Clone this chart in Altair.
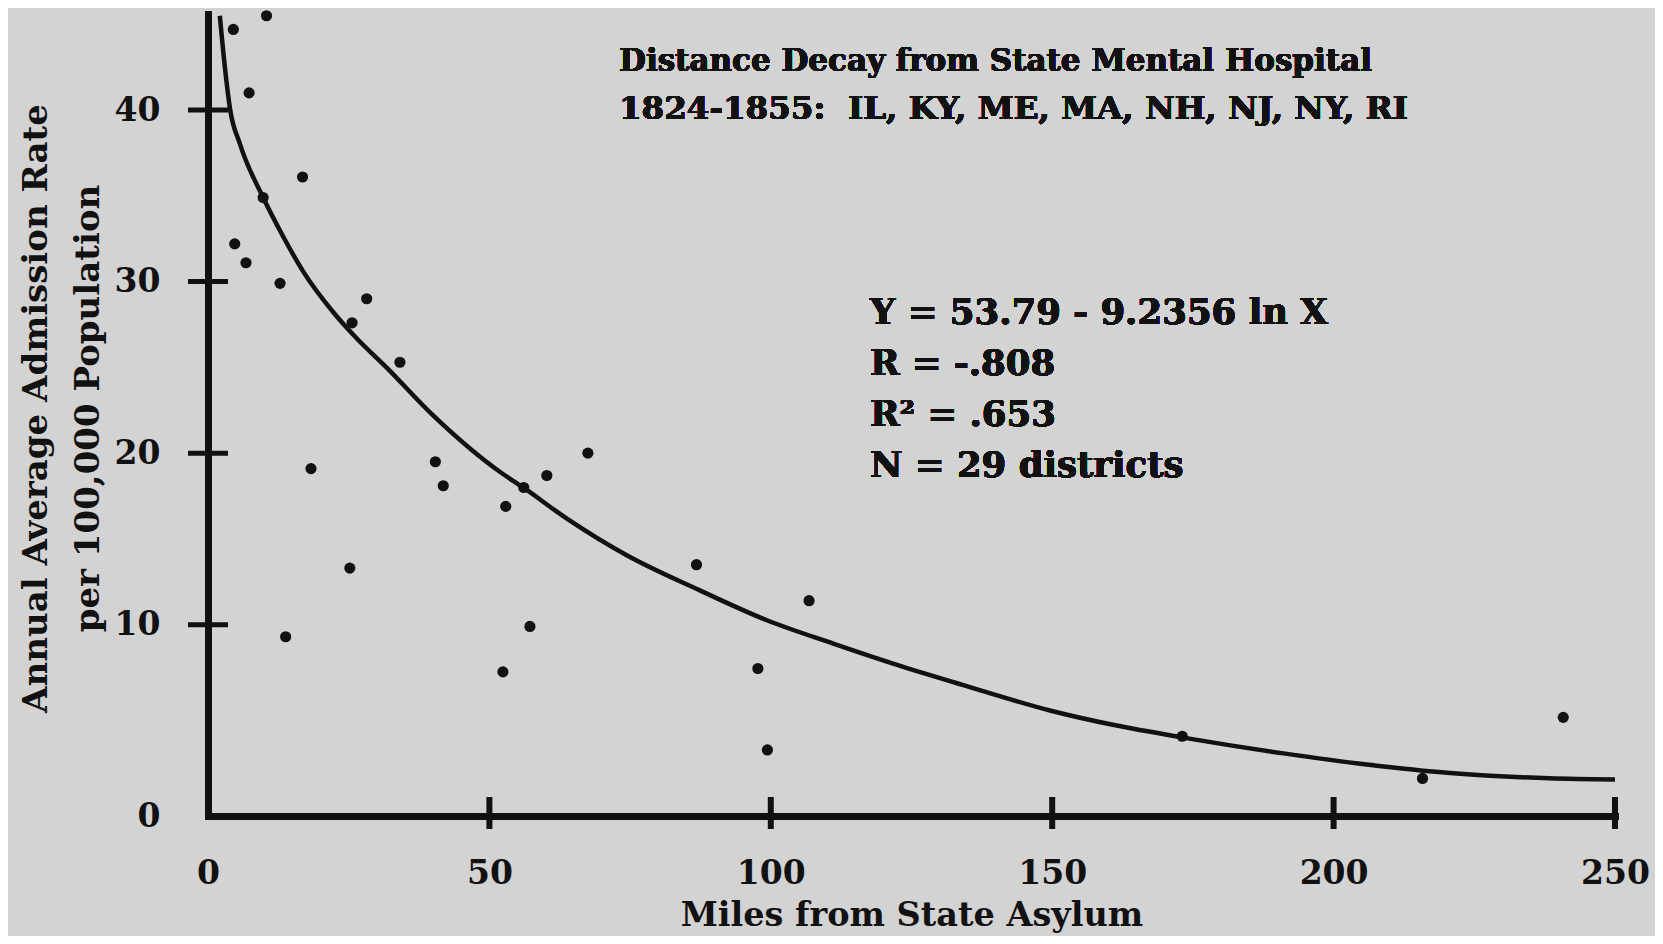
import altair as alt
import pandas as pd

# ---- data ----
miles = [4.5, 10.4, 7.3, 16.8, 9.8, 4.75, 6.75, 12.8, 28.2, 25.6, 34.1,
         18.3, 40.4, 41.8, 52.9, 56.1, 60.2, 67.5, 25.2, 13.8, 57.2, 52.4,
         86.8, 106.8, 97.7, 99.4, 173.1, 215.8, 240.8]
rate = [44.7, 45.5, 41.0, 36.1, 34.9, 32.2, 31.1, 29.9, 29.0, 27.6, 25.3,
        19.1, 19.5, 18.1, 16.9, 18.0, 18.7, 20.0, 13.3, 9.3, 9.9, 7.25,
        13.5, 11.4, 7.45, 2.7, 3.5, 1.04, 4.6]

# fitted curve as drawn in the reference
curve_miles = [2.1, 3.0, 3.9, 5.7, 9.8, 13.4, 16.9, 22.3, 26.4, 31.7, 40.0,
               51.9, 56.0, 63.7, 74.4, 87.4, 99.3, 111.1, 123.0, 134.8, 149.6,
               161.0, 173.3, 191.1, 205.9, 220.7, 238.4, 250.0]
curve_rate = [45.5, 42.5, 40.1, 38.0, 34.9, 32.6, 30.6, 28.2, 26.7, 25.0, 22.2,
              18.9, 18.0, 16.2, 14.05, 12.0, 10.26, 8.9, 7.6, 6.42, 5.0,
              4.15, 3.42, 2.5, 1.85, 1.35, 1.05, 0.98]

x_ticks = [0, 50, 100, 150, 200, 250]
y_ticks = [10, 20, 30, 40]
x_domain = [0, 250]
y_domain = [-1.15, 45.6]

title_line1 = "Distance Decay from State Mental Hospital"
title_line2 = "1824-1855:\u00a0\u00a0IL, KY, ME, MA, NH, NJ, NY, RI"
stat_lines = ["Y = 53.79 - 9.2356 ln X", "R = -.808", "R² = .653", "N = 29 districts"]

# ---- styling ----
W, H = 1407, 802
FONT = "DejaVu Serif"
INK = "#111111"
BG = "#d3d3d3"

pts = pd.DataFrame({"miles": miles, "rate": rate})
curve = pd.DataFrame({"miles": curve_miles, "rate": curve_rate})
xt = pd.DataFrame({"miles": [v for v in x_ticks if v > 0]})
yt = pd.DataFrame({"rate": y_ticks})

xscale = alt.Scale(domain=x_domain, nice=False, zero=False)
yscale = alt.Scale(domain=y_domain, nice=False, zero=False)

x_axis = alt.Axis(values=x_ticks, format="d", ticks=False, grid=False,
                  domainWidth=7, domainColor=INK, domainCap="square",
                  labelFont=FONT, labelFontSize=33, labelFontWeight="bold",
                  labelColor=INK, labelPadding=41, labelFlush=False, labelOverlap=False,
                  title="Miles from State Asylum", titleFont=FONT, titleFontSize=33.5,
                  titleFontWeight="bold", titleColor=INK, titlePadding=9)
y_axis = alt.Axis(values=[y_domain[0]] + y_ticks,
                  labelExpr="datum.value < 0 ? '0' : format(datum.value, 'd')",
                  ticks=False, grid=False,
                  domainWidth=7, domainColor=INK, domainCap="square",
                  labelFont=FONT, labelFontSize=33, labelFontWeight="bold",
                  labelColor=INK, labelPadding=48, labelFlush=False, labelOverlap=False,
                  title=["Annual Average Admission Rate", "per 100,000 Population"],
                  titleFont=FONT, titleFontSize=34, titleFontWeight="bold",
                  titleColor=INK, titlePadding=9, titleLineHeight=52,
                  titleY=H / 2 - 7)

points = alt.Chart(pts).mark_circle(size=125, color=INK, opacity=1).encode(
    x=alt.X("miles:Q", scale=xscale, axis=x_axis),
    y=alt.Y("rate:Q", scale=yscale, axis=y_axis),
)

line = alt.Chart(curve).mark_line(color=INK, strokeWidth=4.5, interpolate="monotone").encode(
    x=alt.X("miles:Q", scale=xscale),
    y=alt.Y("rate:Q", scale=yscale),
)

x_tick_marks = alt.Chart(xt).mark_rule(color=INK, strokeWidth=6).encode(
    x=alt.X("miles:Q", scale=xscale),
    y=alt.value(H - 19), y2=alt.value(H + 13),
)
y_tick_marks = alt.Chart(yt).mark_rule(color=INK, strokeWidth=5).encode(
    y=alt.Y("rate:Q", scale=yscale),
    x=alt.value(-20), x2=alt.value(20),
)

title_text1 = alt.Chart(pts).mark_text(
    text=title_line1, font=FONT, fontSize=31, fontWeight="bold", color=INK,
    align="left", baseline="alphabetic",
).encode(x=alt.value(411), y=alt.value(57))
title_text2 = alt.Chart(pts).mark_text(
    text=title_line2, font=FONT, fontSize=32.5, fontWeight="bold", color=INK,
    align="left", baseline="alphabetic",
).encode(x=alt.value(411), y=alt.value(105))

stat_text = alt.Chart(pts).mark_text(
    text=stat_lines, font=FONT, fontSize=35.5, fontWeight="bold", color=INK,
    align="left", baseline="alphabetic", lineHeight=51,
).encode(x=alt.value(662), y=alt.value(310))

chart = alt.layer(line, points, x_tick_marks, y_tick_marks,
                  title_text1, title_text2, stat_text).properties(
    width=W, height=H,
    padding={"left": 200, "top": 6, "right": 40, "bottom": 120},
    autosize=alt.AutoSizeParams(type="none"),
    background=BG,
).configure_view(stroke=None)

chart.save("out.html", embed_options={"renderer": "svg", "actions": False})
